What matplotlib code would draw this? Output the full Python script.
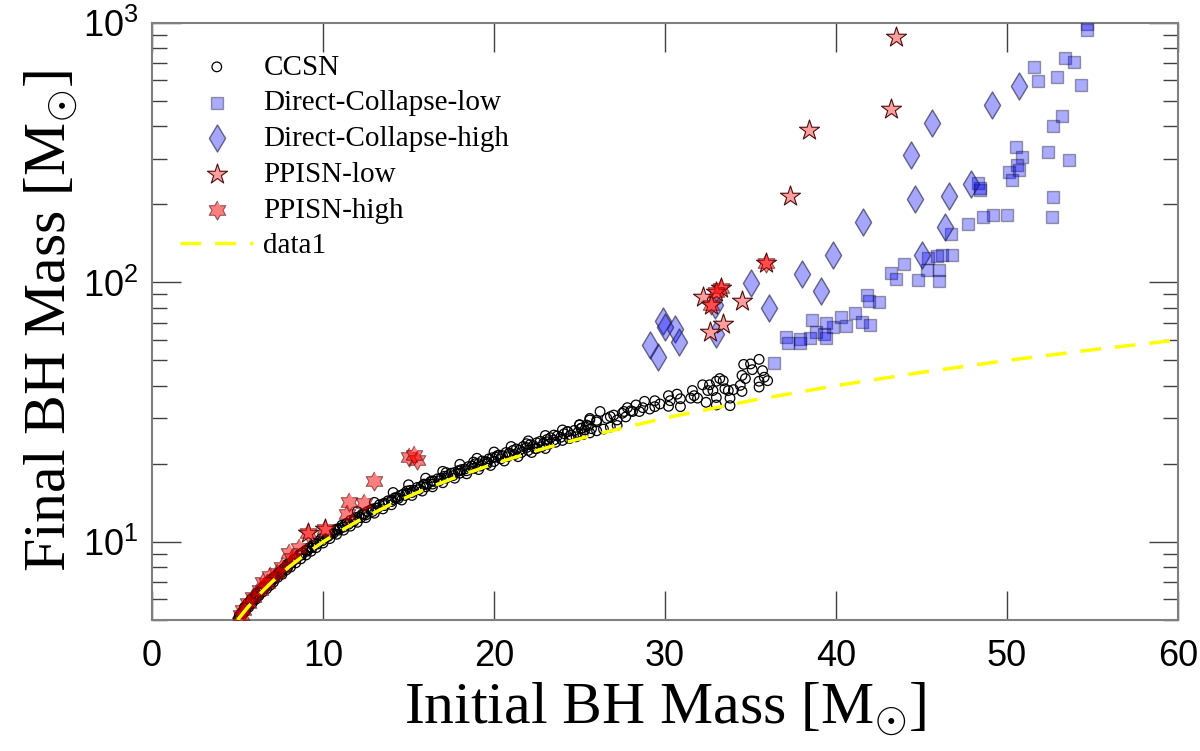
import numpy as np
import matplotlib
matplotlib.use("Agg")
import matplotlib.pyplot as plt
from matplotlib.ticker import FixedLocator, LogLocator, FuncFormatter, NullFormatter

plt.rcParams['mathtext.fontset'] = 'custom'
plt.rcParams['mathtext.rm'] = 'Liberation Serif'
plt.rcParams['mathtext.sf'] = 'Liberation Sans'

# CCSN (initial, final)
ccsn_x = [5.0, 5.1, 5.2, 5.3, 5.4, 5.5, 5.6, 5.7, 5.8, 5.9, 6.0, 6.1, 6.2, 6.3, 6.4, 6.5, 6.6, 6.7,
          6.8, 6.9, 7.0, 7.1, 7.2, 7.3, 7.4, 7.5, 7.6, 7.7, 7.8, 7.9, 8.0, 8.2, 8.3, 8.4, 8.6, 8.7,
          8.8, 9.0, 9.1, 9.2, 9.4, 9.5, 9.6, 9.8, 9.9, 10.1, 10.2, 10.4, 10.5, 10.7, 10.8, 11.0,
          11.1, 11.3, 11.4, 11.6, 11.8, 11.9, 12.1, 12.3, 12.4, 12.6, 12.8, 12.9, 13.1, 13.3, 13.5,
          13.6, 13.8, 14.0, 14.2, 14.3, 14.5, 14.7, 14.9, 15.1, 15.3, 15.5, 15.7, 15.9, 16.1, 16.3,
          16.5, 16.7, 16.9, 17.1, 17.3, 17.5, 17.7, 17.9, 18.1, 18.3, 18.5, 18.7, 18.9, 19.1, 19.3,
          19.5, 19.7, 19.9, 20.1, 20.3, 20.5, 20.7, 20.9, 21.1, 21.3, 21.5, 21.7, 21.9, 22.1, 22.3,
          22.5, 22.7, 22.9, 23.1, 23.3, 23.5, 23.7, 23.9, 24.1, 24.3, 24.5, 24.7, 24.9, 25.1, 25.3,
          25.5, 25.7, 14.9, 15.9, 16.4, 17.2, 18.0, 18.8, 19.6, 20.2, 20.9, 21.9, 22.5, 23.1, 23.5,
          24.3, 25.0, 25.6, 25.1, 25.4, 25.6, 26.0, 26.2, 26.6, 27.0, 27.2, 27.6, 27.7, 27.8, 28.1,
          28.3, 28.5, 28.7, 28.8, 29.1, 29.4, 29.4, 29.7, 30.2, 30.3, 30.2, 30.7, 30.9, 30.9, 31.5,
          31.9, 31.7, 31.6, 32.2, 32.4, 33.0, 33.0, 32.5, 32.8, 32.6, 33.0, 33.4, 33.2, 33.5, 33.7,
          34.0, 34.5, 34.4, 35.5, 35.5, 36.0, 35.8, 34.7, 34.5, 35.7, 35.1, 34.6, 35.0, 35.5, 33.8,
          33.8,
          5.15, 5.35, 5.55, 5.75, 5.95, 6.15, 6.35, 6.55, 6.75, 6.95, 7.15, 7.35, 7.55, 7.75, 7.95,
          8.15, 8.45, 8.75, 9.05, 9.35, 9.65, 9.95, 10.3, 10.6, 10.9, 11.2, 11.5, 11.8, 12.2, 12.5,
          12.9, 13.2, 13.6, 14.0, 14.4, 14.8, 15.2, 15.6, 16.0, 16.4, 16.8, 17.2, 17.6, 18.0, 18.4,
          18.8, 19.2, 19.6, 20.0, 20.4, 20.8, 21.2, 21.6, 22.0, 22.4, 22.8, 23.2, 23.6, 24.0, 24.4,
          24.8, 25.2, 25.6, 26.0, 26.4, 26.8, 27.2,
          12.0, 13.0, 14.1, 15.0, 16.0, 17.0, 18.0, 19.0, 20.0, 21.0, 22.0, 23.0, 24.0, 25.0, 26.0,
          26.8, 27.5, 28.0,
          5.05, 5.25, 5.45, 5.65, 5.85, 6.05, 6.25, 6.45, 6.7, 6.9, 7.1, 7.35, 7.6, 7.85, 8.1,
          8.4, 8.7, 9.0, 9.3, 9.6, 10.0, 10.4, 10.8, 11.2, 11.6, 12.0, 12.5, 13.0, 13.5, 14.0,
          14.6, 15.2, 15.8, 16.4, 17.0, 17.7, 18.4, 19.1, 19.8, 20.6, 21.4, 22.2, 23.0]
ccsn_y = [5.0, 5.2, 5.3, 5.4, 5.6, 5.6, 5.8, 5.8, 6.0, 6.1, 6.1, 6.3, 6.4, 6.4, 6.6, 6.7, 6.8, 6.8,
          7.0, 7.1, 7.2, 7.3, 7.3, 7.5, 7.6, 7.7, 7.8, 7.9, 8.0, 8.2, 8.2, 8.4, 8.6, 8.6, 8.9, 8.9,
          9.1, 9.3, 9.3, 9.5, 9.7, 9.8, 9.9, 10.1, 10.3, 10.4, 10.5, 10.8, 10.8, 11.1, 11.2, 11.3,
          11.6, 11.7, 11.8, 12.1, 12.2, 12.4, 12.5, 12.8, 12.8, 13.1, 13.3, 13.4, 13.5, 13.9, 14.0,
          14.1, 14.4, 14.5, 14.8, 14.8, 15.1, 15.3, 15.4, 15.8, 15.8, 16.2, 16.3, 16.6, 16.7, 17.1,
          17.1, 17.5, 17.6, 17.9, 18.0, 18.4, 18.5, 18.8, 19.0, 19.1, 19.5, 19.6, 20.0, 20.0, 20.5,
          20.4, 20.9, 21.1, 21.2, 21.6, 21.5, 22.1, 22.0, 22.5, 22.8, 22.6, 23.3, 23.1, 23.7, 23.5,
          24.1, 24.4, 24.0, 24.8, 25.2, 24.7, 25.6, 25.3, 26.1, 26.6, 25.8, 26.9, 26.4, 27.4, 27.0,
          28.0, 27.3, 15.7, 16.7, 17.2, 18.5, 18.8, 20.3, 20.3, 21.5, 21.9, 23.9, 22.9, 24.3, 25.8,
          26.6, 28.2, 29.9, 27.4, 28.2, 29.5, 29.0, 31.8, 29.9, 30.8, 29.5, 31.8, 30.3, 32.9, 31.8,
          33.7, 31.8, 32.9, 34.8, 32.5, 35.0, 33.2, 34.0, 36.6, 35.0, 33.3, 37.1, 35.6, 33.2, 35.8,
          35.8, 36.6, 38.3, 40.3, 34.5, 33.7, 36.0, 38.3, 38.3, 40.3, 41.6, 41.8, 42.6, 38.9, 38.3,
          38.6, 38.0, 40.1, 39.5, 41.6, 41.8, 43.1, 42.6, 43.8, 45.7, 46.1, 48.3, 48.5, 50.5, 33.5,
          35.8,
          5.2, 5.4, 5.6, 5.9, 6.0, 6.2, 6.5, 6.6, 6.9, 7.0, 7.2, 7.5, 7.6, 7.9, 8.0,
          8.3, 8.6, 8.9, 9.2, 9.5, 9.8, 10.1, 10.5, 10.8, 11.1, 11.4, 11.7, 12.0, 12.4, 12.7,
          13.1, 13.5, 13.8, 14.3, 14.7, 15.1, 15.5, 15.9, 16.3, 16.7, 17.2, 17.6, 18.0, 18.4, 18.8,
          19.2, 19.6, 20.0, 20.4, 20.9, 21.3, 21.7, 22.1, 22.5, 22.9, 23.3, 23.8, 24.2, 24.6, 25.0,
          25.4, 25.9, 26.3, 26.8, 27.2, 27.7, 28.1,
          13.1, 14.2, 15.5, 16.6, 17.6, 18.7, 19.9, 21.0, 22.2, 23.3, 24.5, 25.7, 27.0, 28.3, 29.4,
          30.4, 31.3, 32.0,
          5.0, 5.2, 5.4, 5.6, 5.8, 6.0, 6.2, 6.4, 6.6, 6.8, 7.0, 7.3, 7.5, 7.8, 8.0,
          8.3, 8.6, 8.9, 9.2, 9.5, 9.9, 10.3, 10.7, 11.1, 11.5, 11.9, 12.4, 12.9, 13.4, 13.9,
          14.5, 15.1, 15.7, 16.3, 16.9, 17.6, 18.3, 19.0, 19.7, 20.5, 21.3, 22.1, 22.9]

# Direct-Collapse-low
dcl_x = [54.7, 54.7, 53.4, 53.9, 51.6, 51.8, 52.9, 54.3, 53.2, 52.7, 50.5, 50.9, 52.4, 53.6, 50.6,
         50.1, 50.7, 50.3, 48.3, 48.4, 48.4, 52.7, 52.6, 50.0, 49.2, 48.6, 47.7, 46.7, 46.8, 46.2,
         45.9, 45.4, 44.0, 45.3, 46.0, 44.8, 46.0, 43.2, 43.5, 41.8, 41.9, 42.5, 41.1, 41.5, 42.0,
         40.3, 40.6, 39.8, 39.4, 38.6, 38.8, 39.3, 39.4, 38.5, 37.9, 37.9, 37.1, 37.2, 36.4]
dcl_y = [991, 937, 730, 707, 676, 597, 621, 577, 439, 402, 333, 303, 318, 296, 283,
         266, 270, 249, 242, 226, 230, 214, 178, 182, 182, 179, 168, 154, 127, 128,
         126, 124, 118, 112, 112, 102, 101, 109, 103, 89.6, 84.5, 83.8, 76.2, 70.1, 68.7,
         73.3, 67.6, 67.3, 69.5, 71.6, 64.6, 63.1, 60.9, 61.2, 60.7, 58.6, 61.8, 58.6, 49.0]

# Direct-Collapse-high
dch_x = [50.7, 49.1, 45.6, 44.4, 44.6, 46.6, 47.9, 46.4, 45.0, 41.6, 39.8, 38.0, 39.1, 35.0,
         36.1, 29.9, 30.0, 30.6, 30.8, 29.1, 29.6, 32.9, 33.0]
dch_y = [570, 481, 412, 309, 210, 215, 240, 163, 127, 171, 128, 108, 92.5, 99.4,
         79.7, 70.7, 67.4, 66.0, 58.8, 57.4, 51.6, 82.0, 63.0]

# PPISN-low
ppl_x = [43.5, 43.2, 38.4, 37.3, 35.9, 34.5, 33.3, 33.0, 32.2, 32.7, 33.4, 32.6, 9.1, 10.1]
ppl_y = [881, 467, 385, 216, 119, 84.4, 95.0, 91.6, 87.6, 81.9, 69.0, 64.1, 10.8, 11.2]

# PPISN-high
pph_x = [15.0, 15.5, 15.3, 13.0, 11.5, 12.4, 11.4, 10.1, 9.1, 8.6, 8.0, 8.2, 7.3, 6.9, 6.7,
         6.3, 5.9, 5.6, 5.3, 5.2, 7.6, 6.5, 33.3, 33.0, 35.9, 32.7]
pph_y = [21.2, 20.6, 21.6, 17.1, 14.2, 14.1, 12.8, 11.2, 10.8, 9.5, 9.06, 8.7, 7.57, 7.36, 6.92,
         6.52, 6.15, 5.79, 5.46, 5.22, 8.0, 7.0, 95.0, 91.6, 119, 81.9]

# data1: the one-to-one line
line_x = [5, 5.5, 6, 6.5, 7, 8, 9, 10, 11, 12, 14, 16, 18, 20, 23, 26, 30, 35, 40, 45, 50, 55, 60]
line_y = [5, 5.5, 6, 6.5, 7, 8, 9, 10, 11, 12, 14, 16, 18, 20, 23, 26, 30, 35, 40, 45, 50, 55, 60]

# six pointed star marker
ang = np.arange(12) * np.pi / 6 + np.pi / 2
rad = np.where(np.arange(12) % 2 == 0, 1.0, 0.58)
hexagram = list(zip(rad * np.cos(ang), rad * np.sin(ang)))

fig = plt.figure(figsize=(12, 7.51), dpi=100)
ax = fig.add_axes([0.1267, 0.1744, 0.855, 0.7952])

ax.scatter(ccsn_x, ccsn_y, s=48, facecolors='none', edgecolors='black', linewidths=0.9,
           label='CCSN', zorder=2)
ax.scatter(dcl_x, dcl_y, s=70, marker='s', facecolors=(0, 0, 1, 0.33),
           edgecolors=(0, 0, 0, 0.35), linewidths=1.0, label='Direct-Collapse-low', zorder=3)
ax.scatter(dch_x, dch_y, s=190, marker='d', facecolors=(0, 0, 1, 0.35),
           edgecolors=(0.1, 0.1, 0.2, 0.6), linewidths=1.0, label='Direct-Collapse-high', zorder=3)
ax.scatter(ppl_x, ppl_y, s=230, marker='*', facecolors=(1, 0.62, 0.62),
           edgecolors=(0.3, 0.05, 0.05), linewidths=0.8, label='PPISN-low', zorder=4)
ax.scatter(pph_x, pph_y, s=190, marker=hexagram, facecolors=(1, 0, 0, 0.5),
           edgecolors=(0.3, 0.05, 0.05, 0.6), linewidths=0.8, label='PPISN-high', zorder=4)
ax.plot(line_x, line_y, '--', color='yellow', lw=2.5, dashes=(6, 4), label='data1', zorder=5)

ax.set_xlim(0, 60)
ax.set_yscale('log')
ax.set_ylim(5, 1000)
ax.xaxis.set_major_locator(FixedLocator([0, 10, 20, 30, 40, 50, 60]))
ax.yaxis.set_major_locator(FixedLocator([10, 100, 1000]))
ax.yaxis.set_minor_locator(LogLocator(base=10, subs=np.arange(2, 10)))
ax.yaxis.set_minor_formatter(NullFormatter())
ax.yaxis.set_major_formatter(FuncFormatter(lambda v, p: r'$\mathsf{10^{%d}}$' % round(np.log10(v))))

ax.tick_params(which='major', direction='in', length=21, width=1.0, color='0.25',
               top=True, right=True, labelsize=26, pad=14)
ax.tick_params(axis='y', which='major', pad=10)
ax.tick_params(which='minor', direction='in', length=11, width=1.0, color='0.25',
               top=True, right=True)
for lab in ax.get_xticklabels():
    lab.set_family(['Liberation Sans', 'DejaVu Sans'])
for sp in ax.spines.values():
    sp.set_color('0.5')
    sp.set_linewidth(1.5)

ax.set_xlabel(r'Initial BH Mass [M$_{\odot}$]', family='Liberation Serif', fontsize=43, labelpad=4)
ax.set_ylabel(r'Final BH Mass [M$_{\odot}$]', family='Liberation Serif', fontsize=43, labelpad=2)

ax.legend(loc='upper left', frameon=False, prop={'family': 'Liberation Serif', 'size': 21},
          bbox_to_anchor=(0.0, 0.995), borderaxespad=0.0, borderpad=0.97,
          labelspacing=0.32, handlelength=2.5, handletextpad=0.35)

fig.savefig('out.png', dpi=100)
